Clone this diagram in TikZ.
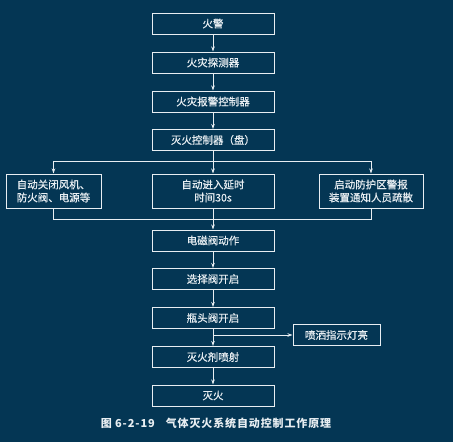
\documentclass[tikz,border=0pt]{standalone}
\usepackage{fontspec}
\newfontfamily\cjk[FakeBold=0.6]{Noto Sans CJK SC}
\newfontfamily\cjkcap[LetterSpace=8]{Noto Sans CJK SC}
\usetikzlibrary{arrows.meta}
\definecolor{bg}{RGB}{4,54,84}
\definecolor{fg}{RGB}{232,238,242}
\begin{document}
\begin{tikzpicture}[x=1pt,y=-1pt,
  box/.style={draw=fg,line width=1pt,text=fg,font=\cjk\fontsize{10.5}{13}\selectfont,
    minimum width=122pt,minimum height=21pt,inner sep=0pt,align=center},
  conn/.style={draw=fg,line width=0.9pt},
  arr/.style={conn,-{Stealth[length=5pt,width=3.5pt]}}]
\fill[bg] (0,0) rectangle (453,442);
\useasboundingbox (0,0) rectangle (453,442);
\node[box] (n1) at (213,23.5) {火警};
\node[box] (n2) at (213,62.5) {火灾探测器};
\node[box] (n3) at (213,101.5) {火灾报警控制器};
\node[box] (n4) at (213,140) {灭火控制器（盘）};
\node[box,minimum height=34pt] (m2) at (213,191) {自动进入延时\\时间30s};
\node[box,minimum width=95pt,minimum height=34pt] (l) at (53.5,191) {自动关闭风机、\\防火阀、电源等};
\node[box,minimum width=104pt,minimum height=34pt] (r) at (371,191) {启动防护区警报\\装置通知人员疏散};
\node[box] (n5) at (213,240.5) {电磁阀动作};
\node[box] (n6) at (213,279) {选择阀开启};
\node[box] (n7) at (213,318) {瓶头阀开启};
\node[box] (n8) at (213,357) {灭火剂喷射};
\node[box] (n9) at (213,395.5) {灭火};
\node[box,minimum width=87pt] (s) at (336.5,335) {喷洒指示灯亮};
\node[text=fg,font=\cjkcap\bfseries\fontsize{11}{13}\selectfont] (cap) at (216,423) {图 6-2-19\quad 气体灭火系统自动控制工作原理};
\coordinate (br) at (213,161);
\coordinate (mg) at (213,219);
\coordinate (sp) at (213,335);
\draw[arr] (n1) -- (n2);
\draw[arr] (n2) -- (n3);
\draw[arr] (n3) -- (n4);
\draw[arr] (n4) -- (m2);
\draw[conn] (l.north |- br) -- (r.north |- br);
\draw[arr] (l.north |- br) -- (l.north);
\draw[arr] (r.north |- br) -- (r.north);
\draw[conn] (l.south) -- (l.south |- mg) -- (r.south |- mg) -- (r.south);
\draw[arr] (m2) -- (n5);
\draw[arr] (n5) -- (n6);
\draw[arr] (n6) -- (n7);
\draw[arr] (n7) -- (n8);
\draw[arr] (sp) -- (s.west);
\draw[arr] (n8) -- (n9);
\end{tikzpicture}
\end{document}
